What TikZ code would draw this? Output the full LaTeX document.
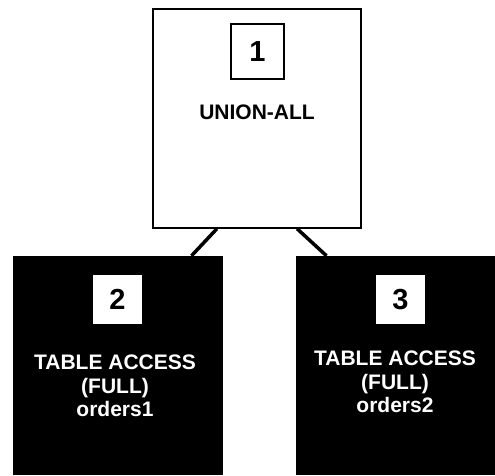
\documentclass[tikz,border=0pt]{standalone}
\usepackage{fontspec}
\setmainfont{Liberation Sans}
\usepackage{tikz}

\begin{document}
\begin{tikzpicture}[x=1pt, y=-1pt,
  every node/.style = {font=\bfseries\fontsize{21}{23.5}\selectfont,
    align=center, inner sep=0pt},
  step box/.style = {shape=rectangle, minimum width=210pt,
    minimum height=219pt},
  num box/.style = {shape=rectangle, minimum size=49pt,
    font=\bfseries\fontsize{29}{30}\selectfont}]
    \tikzstyle{link}=[line width=3.5pt]
  \useasboundingbox (0,0) rectangle (495,475);
  % parent
  \node[step box, draw, line width=1.5pt, fill=white, minimum width=208pt] (union) at (257,118.5) {};
  \node[num box, draw, line width=2pt, minimum width=53pt, minimum height=55pt] (n1) at (257.5,51.5) {1};
  \node[anchor=base] (op1) at (257,119) {UNION-ALL};
  % children
  \node[step box, fill=black] (tab1) at (117.5,365.5) {};
  \node[step box, fill=black] (tab2) at (400.5,365.5) {};
  \node[num box, fill=white] (n2) at (117.5,299.5) {2};
  \node[num box, fill=white] (n3) at (400.5,299.5) {3};
  \node[text=white] (op2) at (115,386) {TABLE ACCESS\\(FULL)\\orders1};
  \node[text=white] (op3) at (395,382) {TABLE ACCESS\\(FULL)\\orders2};
  \draw[link] (union.250) -- (tab1.56);
  \draw[link] (union.290) -- (tab2.124);
\end{tikzpicture}
\end{document}
